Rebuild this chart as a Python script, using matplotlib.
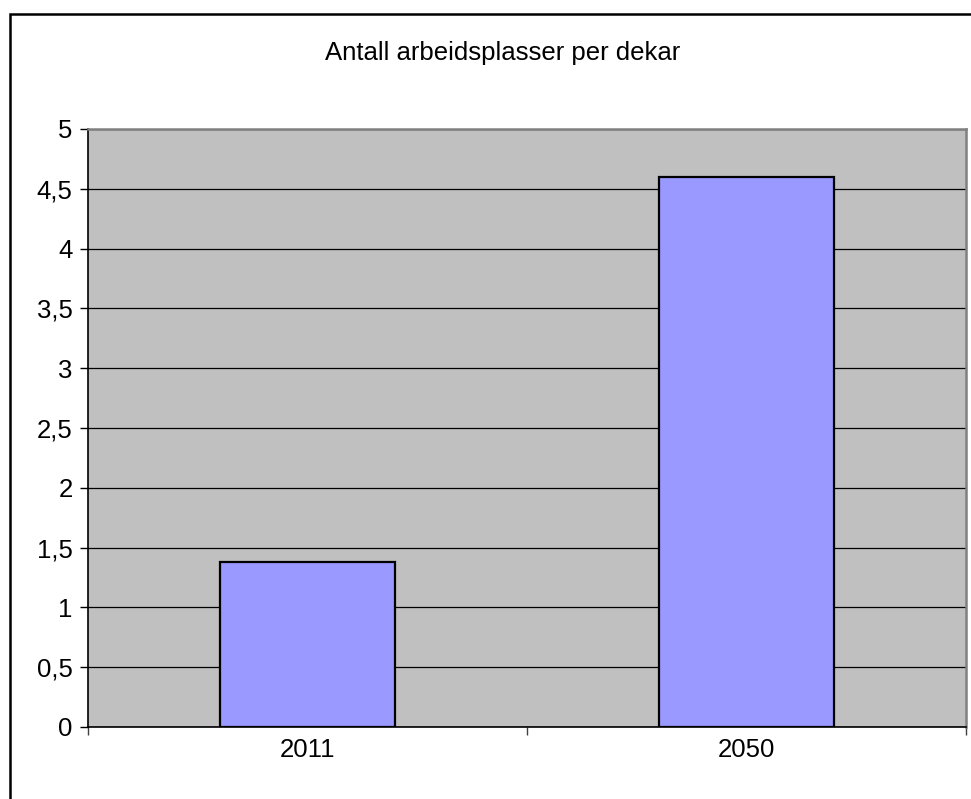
import matplotlib.pyplot as plt
from matplotlib.patches import Rectangle
from matplotlib.ticker import FixedLocator

plt.rcParams['font.family'] = ['Liberation Sans', 'DejaVu Sans']

years = ['2011', '2050']
values = [1.38, 4.6]
yticks = [0, 0.5, 1, 1.5, 2, 2.5, 3, 3.5, 4, 4.5, 5]
ytick_labels = ['0', '0,5', '1', '1,5', '2', '2,5', '3', '3,5', '4', '4,5', '5']

fig = plt.figure(figsize=(9.71, 7.99), dpi=100)

# outer chart frame (only left and top edges fall inside the image)
fig.patches.append(Rectangle((10 / 971, -0.1), 1.2, (799 - 14) / 799 + 0.1,
                             transform=fig.transFigure, fill=False,
                             edgecolor='black', linewidth=1.8, zorder=0))

ax = fig.add_axes([88 / 971, 72 / 799, (966 - 88) / 971, (727 - 129) / 799])
ax.set_facecolor('#c0c0c0')

x = [0.5, 1.5]
ax.bar(x, values, width=0.4, color='#9999ff', edgecolor='black',
       linewidth=1.6, zorder=3)

ax.set_xlim(0, 2)
ax.set_ylim(0, 5)

ax.set_yticks(yticks)
ax.set_yticklabels(ytick_labels)
ax.yaxis.grid(True, color='black', linewidth=0.9, zorder=1)
ax.set_axisbelow(True)

ax.set_xticks(x)
ax.set_xticklabels(years)
ax.xaxis.set_minor_locator(FixedLocator([0, 1, 2]))
ax.tick_params(axis='x', which='major', length=0, pad=8, labelsize=18.5)
ax.tick_params(axis='x', which='minor', length=6, width=1, color='#404040', direction='out')
ax.tick_params(axis='y', length=6, width=1, pad=5, labelsize=18.5)

for side in ['left', 'bottom']:
    ax.spines[side].set_color('black')
    ax.spines[side].set_linewidth(1.2)
for side in ['top', 'right']:
    ax.spines[side].set_color('#808080')
    ax.spines[side].set_linewidth(1.8)

fig.text(502.5 / 971, 1 - 53 / 799, 'Antall arbeidsplasser per dekar',
         ha='center', va='center', fontsize=18.5)

fig.savefig('out.png', dpi=100)
